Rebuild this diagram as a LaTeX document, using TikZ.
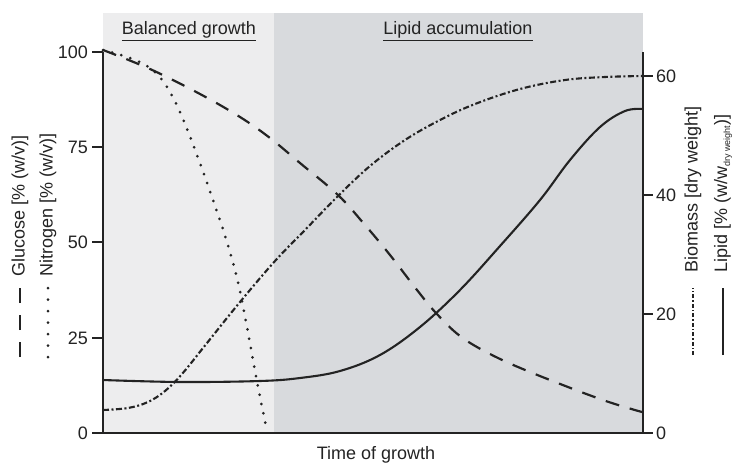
\documentclass[tikz,border=0pt]{standalone}
\usepackage{fontspec}
\setmainfont{Liberation Sans}
\definecolor{lightbg}{RGB}{237,237,238}
\definecolor{darkbg}{RGB}{216,218,221}
\definecolor{ink}{RGB}{35,35,35}
\begin{document}
\begin{tikzpicture}[x=1pt,y=-1pt,
  every node/.style={inner sep=0pt,text=ink,font=\fontsize{18}{21}\selectfont},
  axisline/.style={draw=ink,line width=2pt},
  glucosecurve/.style={draw=ink,line width=2.2pt,dash pattern=on 14pt off 11pt},
  nitrocurve/.style={draw=ink,line width=3pt,line cap=round,dash pattern=on 0pt off 9.5pt},
  biocurve/.style={draw=ink,line width=2.1pt,dash pattern=on 6pt off 2.5pt on 2pt off 2.5pt},
  lipidcurve/.style={draw=ink,line width=2.1pt},
  ylab/.style={rotate=90,anchor=west}]
\useasboundingbox (0,0) rectangle (735,466);
% background phases
\fill[lightbg] (103,13) rectangle (274,433);
\fill[darkbg] (274,13) rectangle (643,433);
% phase headings
\node (hbal) at (189,31) {\underline{Balanced growth}};
\node (hlip) at (458,31) {\underline{Lipid accumulation}};
% curves
\draw[glucosecurve] plot[smooth,tension=0.6] coordinates {(103,50) (150,69) (200,94) (240,117) (270,138) (300,163) (338,195) (365,225) (390,255) (417,290) (436,313) (460,336) (490,354) (530,372) (600,399) (642,412)};
\draw[nitrocurve] plot[smooth,tension=0.6] coordinates {(103,50) (130,58) (150,68) (165,84) (180,112) (197,155) (213,200) (227,242) (238,282) (246,322) (253,360) (259,392) (266,426)};
\draw[biocurve] plot[smooth,tension=0.6] coordinates {(103,410) (128,408) (148,402) (165,391) (182,374) (207,343) (240,302) (275,261) (305,230) (337,197) (370,166) (405,140) (440,120) (475,104) (520,89) (565,80) (605,77) (643,76)};
\draw[lipidcurve] plot[smooth,tension=0.6] coordinates {(103,380) (180,382) (260,381) (300,378) (340,371) (380,355) (420,327) (460,290) (500,246) (540,200) (570,160) (600,127) (625,111) (643,109)};
% axes
\draw[axisline] (103,52) -- (103,433) -- (643,433) -- (643,52);
% left ticks
\foreach \yy/\lab/\nm in {52/100/l100,147/75/l75,242/50/l50,338/25/l25,433/0/l0}{
  \draw[axisline] (92,\yy) -- (103,\yy);
  \node[anchor=east] (\nm) at (88,\yy) {\lab};
}
% right ticks
\foreach \yy/\lab/\nm in {76/60/r60,195/40/r40,314/20/r20,433/0/r0}{
  \draw[axisline] (643,\yy) -- (653,\yy);
  \node[anchor=west] (\nm) at (656,\yy) {\lab};
}
% x axis label
\node (xlab) at (376,455) {Time of growth};
% left axis labels
\node[ylab] (glab) at (20,277) {Glucose [\% (w/v)]};
\node[ylab] (nlab) at (48,277) {Nitrogen [\% (w/v)]};
\coordinate (gA) at (20,357); \coordinate (gB) at (20,288);
\coordinate (nA) at (48,357); \coordinate (nB) at (48,288);
\draw[draw=ink,line width=2.2pt,dash pattern=on 15pt off 12pt] (gA) -- (gB);
\draw[draw=ink,line width=3pt,line cap=round,dash pattern=on 0pt off 11.5pt] (nA) -- (nB);
% right axis labels
\node[ylab] (blab) at (693,273) {Biomass [dry weight]};
\node[ylab] (llab) at (723,273) {Lipid [\% (w/w\raisebox{-3pt}{\fontsize{9}{9}\selectfont dry weight})]};
\coordinate (bA) at (693,355); \coordinate (bB) at (693,288);
\coordinate (lA) at (723,355); \coordinate (lB) at (723,288);
\draw[draw=ink,line width=2pt,dash pattern=on 4pt off 2pt on 1.5pt off 2pt] (bA) -- (bB);
\draw[draw=ink,line width=2pt] (lA) -- (lB);
\end{tikzpicture}
\end{document}
